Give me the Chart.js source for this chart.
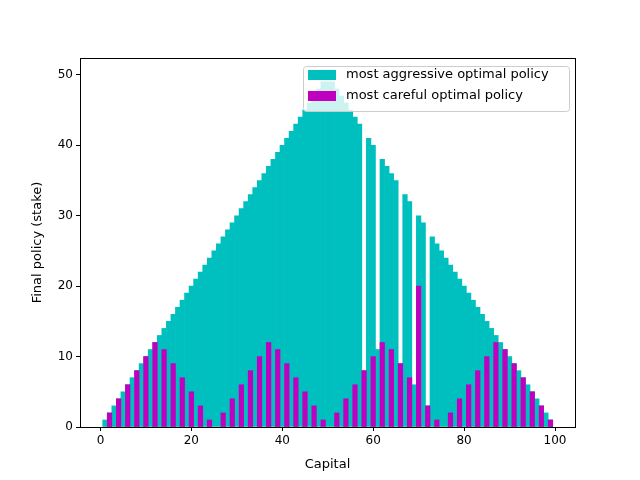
<!DOCTYPE html>
<html>
<head>
<meta charset="utf-8">
<script src="https://cdn.jsdelivr.net/npm/chart.js@4"></script>
<style>
  html, body { margin: 0; padding: 0; background: #fff; }
  #wrap { width: 640px; height: 480px; }
</style>
</head>
<body>
<div id="wrap"><canvas id="chart" width="640" height="480"></canvas></div>
<script>
// capital 1..99
const capital = [];
for (let s = 1; s <= 99; s++) capital.push(s);

// most aggressive optimal stake
const aggressive = [
  1, 2, 3, 4, 5, 6, 7, 8, 9, 10,
  11, 12, 13, 14, 15, 16, 17, 18, 19, 20,
  21, 22, 23, 24, 25, 26, 27, 28, 29, 30,
  31, 32, 33, 34, 35, 36, 37, 38, 39, 40,
  41, 42, 43, 44, 45, 46, 47, 48, 49, 49,
  49, 48, 47, 46, 45, 44, 43, 8, 41, 40,
  11, 38, 37, 36, 35, 9, 33, 32, 6, 30,
  29, 3, 27, 26, 25, 24, 23, 22, 21, 20,
  19, 18, 17, 16, 15, 14, 13, 12, 11, 10,
  9, 8, 7, 6, 5, 4, 3, 2, 1
];

// most careful optimal stake (only the bars that are visible)
const careful = [
  null, 2, null, 4, null, 6, null, 8, null, 10,
  null, 12, null, 11, null, 9, null, 7, null, 5,
  null, 3, null, 1, null, null, 2, null, 4, null,
  6, null, 8, null, 10, null, 12, null, 11, null,
  9, null, 7, null, 5, null, 3, null, 1, null,
  null, 2, null, 4, null, 6, null, 8, null, 10,
  null, 12, null, 11, null, 9, null, 7, null, 20,
  null, 3, null, 1, null, null, 2, null, 4, null,
  6, null, 8, null, 10, null, 12, null, 11, null,
  9, null, 7, null, 5, null, 3, null, 1
];

const xTicks = [0, 20, 40, 60, 80, 100];
const yTicks = [0, 10, 20, 30, 40, 50];

const CYAN = '#00bfbf';
const MAGENTA = '#bf00bf';
const FONT = 'DejaVu Sans';

const toPoints = vals => capital.map((s, i) => ({ x: s, y: vals[i] }));

// frame + legend drawn the matplotlib way
const framePlugin = {
  id: 'frame',
  afterDraw(chart) {
    const { ctx, chartArea: a } = chart;
    ctx.save();
    ctx.strokeStyle = '#000';
    ctx.lineWidth = 1;
    ctx.strokeRect(a.left + 0.5, a.top + 0.5, a.right - a.left, a.bottom - a.top);

    // legend
    const bx = 303, by = 66, bw = 266, bh = 45;
    ctx.fillStyle = 'rgba(255,255,255,0.8)';
    ctx.strokeStyle = '#cccccc';
    ctx.beginPath();
    ctx.roundRect(bx + 0.5, by + 0.5, bw, bh, 3);
    ctx.fill();
    ctx.stroke();
    const items = [['most aggressive optimal policy', CYAN], ['most careful optimal policy', MAGENTA]];
    ctx.font = '13px "' + FONT + '"';
    ctx.textBaseline = 'middle';
    items.forEach(([label, col], i) => {
      const cy = by + 9 + i * 21;
      ctx.fillStyle = col;
      ctx.fillRect(bx + 5, cy - 5, 28, 10);
      ctx.fillStyle = '#000';
      ctx.fillText(label, bx + 43, cy);
    });
    ctx.restore();
  }
};

new Chart(document.getElementById('chart'), {
  type: 'bar',
  data: {
    datasets: [
      {
        label: 'most careful optimal policy',
        data: toPoints(careful),
        backgroundColor: MAGENTA,
        barPercentage: 1,
        categoryPercentage: 1,
        order: 0
      },
      {
        label: 'most aggressive optimal policy',
        data: toPoints(aggressive),
        backgroundColor: CYAN,
        barPercentage: 1,
        categoryPercentage: 1,
        order: 1
      }
    ]
  },
  options: {
    responsive: false,
    animation: false,
    grouped: false,
    devicePixelRatio: 1,
    layout: { padding: { top: 58, right: 65, left: 30, bottom: 8 } },
    plugins: { legend: { display: false }, tooltip: { enabled: false } },
    scales: {
      x: {
        type: 'linear',
        offset: false,
        min: -4.5,
        max: 104.4,
        afterFit: s => { s.height = 45; },
        afterBuildTicks: s => { s.ticks = xTicks.map(v => ({ value: v })); },
        grid: { drawOnChartArea: false, offset: false, color: '#000', tickLength: 4 },
        border: { display: false },
        ticks: { color: '#000', font: { family: FONT, size: 12 }, padding: 3, maxRotation: 0 },
        title: { display: true, text: 'Capital', color: '#000', font: { family: FONT, size: 13 }, padding: { top: 2, bottom: 0 } }
      },
      y: {
        min: 0,
        max: 52.4,
        afterFit: s => { s.width = 50; },
        afterBuildTicks: s => { s.ticks = yTicks.map(v => ({ value: v })); },
        grid: { drawOnChartArea: false, color: '#000', tickLength: 4 },
        border: { display: false },
        ticks: { color: '#000', font: { family: FONT, size: 12 }, padding: 3 },
        title: { display: true, text: 'Final policy (stake)', color: '#000', font: { family: FONT, size: 13 }, padding: { top: 0, bottom: 4 } }
      }
    }
  },
  plugins: [framePlugin]
});
</script>
</body>
</html>
